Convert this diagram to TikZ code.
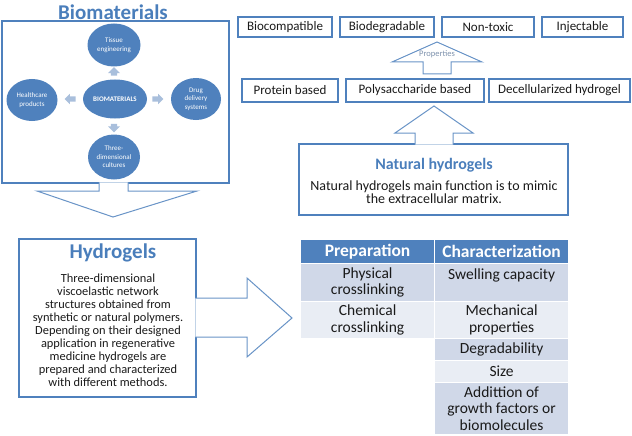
\documentclass[tikz,border=0pt]{standalone}
\usepackage{fontspec}
\setmainfont{Carlito}
\usepackage{tikz}
\usetikzlibrary{positioning, shapes.geometric, shapes.arrows, calc}
\definecolor{accentblue}{HTML}{4F81BD}
\definecolor{titleblue}{HTML}{4A7EBB}
\definecolor{nudgeblue}{HTML}{A9BFDC}
\definecolor{propgray}{HTML}{7F93AE}
\definecolor{rowdark}{HTML}{D0D8E8}
\definecolor{rowlight}{HTML}{E9EDF4}
\definecolor{bodytext}{HTML}{1A1A1A}
\tikzset{
  % big blue title text
  heading/.style={font=\bfseries\fontsize{21}{24}\selectfont, text=titleblue, inner sep=0pt},
  % plain outlined frame
  frame/.style={draw=accentblue, line width=1.1pt},
  % hollow block arrow, white inside
  hollow/.style={draw=accentblue!85, line width=1pt, fill=white, line join=miter},
  % filled ellipse of the biomaterials chart
  bubble/.style={ellipse, fill=accentblue, text=white, inner sep=0pt, align=center,
                 font=\fontsize{7}{8.5}\selectfont},
  % small light arrow between ellipses
  nudge/.style={single arrow, fill=nudgeblue, inner sep=2.5pt,
                single arrow head extend=2.5pt, minimum width=10pt},
  % outlined box with one short label
  tagbox/.style={draw=accentblue, line width=1.1pt, inner sep=0pt, text=bodytext,
                 font=\fontsize{13}{15}\selectfont},
  % table cell
  cell/.style={fill=#1, draw=white, line width=1.2pt, minimum width=134pt,
               inner sep=0pt, anchor=north west, align=center, text=bodytext,
               font=\fontsize{15.5}{16.5}\selectfont},
  cellhead/.style={cell=accentblue, text=white, font=\bfseries\fontsize{17.5}{20}\selectfont},
}

\begin{document}
\begin{tikzpicture}[x=1pt, y=-1pt]
  \useasboundingbox (0,0) rectangle (632,436);

  % biomaterials chart
  \node[heading] (biotitle) at (113,12) {Biomaterials};
  \draw[frame] (2,21) rectangle (229,183);
  \node[bubble, minimum width=64pt, minimum height=39pt,
        font=\bfseries\fontsize{7}{8}\selectfont] (core) at (115,99) {BIOMATERIALS};
  \node[bubble, minimum width=53pt, minimum height=43pt] (tissue) at (114,45) {Tissue\\engineering};
  \node[bubble, minimum width=51pt, minimum height=42pt] (health) at (32,100) {Healthcare\\products};
  \node[bubble, minimum width=50pt, minimum height=42pt] (drug) at (196,99) {Drug\\delivery\\systems};
  \node[bubble, minimum width=52pt, minimum height=45pt] (cult) at (114,157) {Three-\\dimensional\\cultures};
  \node[nudge, rotate=90, minimum height=7pt, minimum width=12pt] (nup) at (114,73) {};
  \node[nudge, rotate=-90, minimum height=7pt, minimum width=12pt] (ndown) at (114,126.5) {};
  \node[nudge, rotate=180, minimum height=11pt] (nleft) at (71.5,99) {};
  \node[nudge, minimum height=11pt] (nright) at (156.5,99) {};
  \filldraw[hollow] (99,182.4) -- (99,191) -- (37,191) -- (113,217)
    -- (197,191) -- (128,191) -- (128,182.4);

  % properties and natural hydrogel types
  \foreach \n/\cx/\w/\txt in {bcomp/285/94/Biocompatible, bdeg/387/94/Biodegradable,
                               ntox/488/92/Non-toxic, inj/582.5/81/Injectable}
    \node[tagbox, minimum width=\w pt, minimum height=20pt] (\n) at (\cx,27) {\txt};
  \foreach \n/\cx/\w/\txt in {prot/290/96/Protein based, poly/415/138/Polysaccharide based,
                               decel/559.5/141/Decellularized hydrogel}
    \node[tagbox, minimum width=\w pt, minimum height=23pt] (\n) at (\cx,90.5) {\txt};
  \filldraw[hollow] (423,74) -- (423,62) -- (392,62) -- (437,42)
    -- (482,62) -- (451,62) -- (451,74) -- cycle;
  \node[font=\fontsize{8.5}{10}\selectfont, text=propgray, inner sep=0pt] (props) at (437,54.5) {Properties};

  \draw[frame] (299,144) rectangle (568,215);
  \filldraw[hollow] (415,144.6) -- (415,133) -- (395,133) -- (434,106)
    -- (473,133) -- (453,133) -- (453,144.6);
  \node[font=\bfseries\fontsize{16}{18}\selectfont, text=titleblue, inner sep=0pt] (nattitle) at (434,165) {Natural hydrogels};
  \node[font=\fontsize{14}{13.5}\selectfont, text=bodytext, align=center, inner sep=0pt] (nattext) at (434,192)
    {Natural hydrogels main function is to mimic\\the extracellular matrix.};

  % hydrogels
  \draw[frame] (19,239) rectangle (196,397);
  \filldraw[hollow] (195.4,298) -- (247,298) -- (247,278) -- (292,318)
    -- (247,357) -- (247,337) -- (195.4,337);
  \node[heading] (hydtitle) at (113,253) {Hydrogels};
  \node[font=\fontsize{12.4}{13}\selectfont, text=bodytext, align=center, inner sep=0pt] (hydtext) at (108,330.5)
    {Three-dimensional\\viscoelastic network\\structures obtained from\\synthetic or natural polymers.\\
     Depending on their designed\\application in regenerative\\medicine hydrogels are\\
     prepared and characterized\\with different methods.};

  % preparation / characterization table
  \node[cellhead, minimum height=24pt] (prep) at (300,239) {Preparation};
  \node[cellhead, minimum height=24pt] (charac) at (434,239) {Characterization};
  \node[cell=rowdark, minimum height=38pt] (phys) at (300,263) {Physical\\crosslinking};
  \node[cell=rowdark, minimum height=38pt] (swell) at (434,263) {Swelling capacity\\\mbox{}};
  \node[cell=rowlight, minimum height=37pt] (chem) at (300,301) {Chemical\\crosslinking};
  \node[cell=rowlight, minimum height=37pt] (mech) at (434,301) {Mechanical\\properties};
  \node[cell=rowdark, minimum height=22pt] (degr) at (434,338) {Degradability};
  \node[cell=rowlight, minimum height=22pt] (size) at (434,360) {Size};
  \node[cell=rowdark, minimum height=52pt] (grow) at (434,382) {Addittion of\\growth factors or\\biomolecules};
\end{tikzpicture}
\end{document}
